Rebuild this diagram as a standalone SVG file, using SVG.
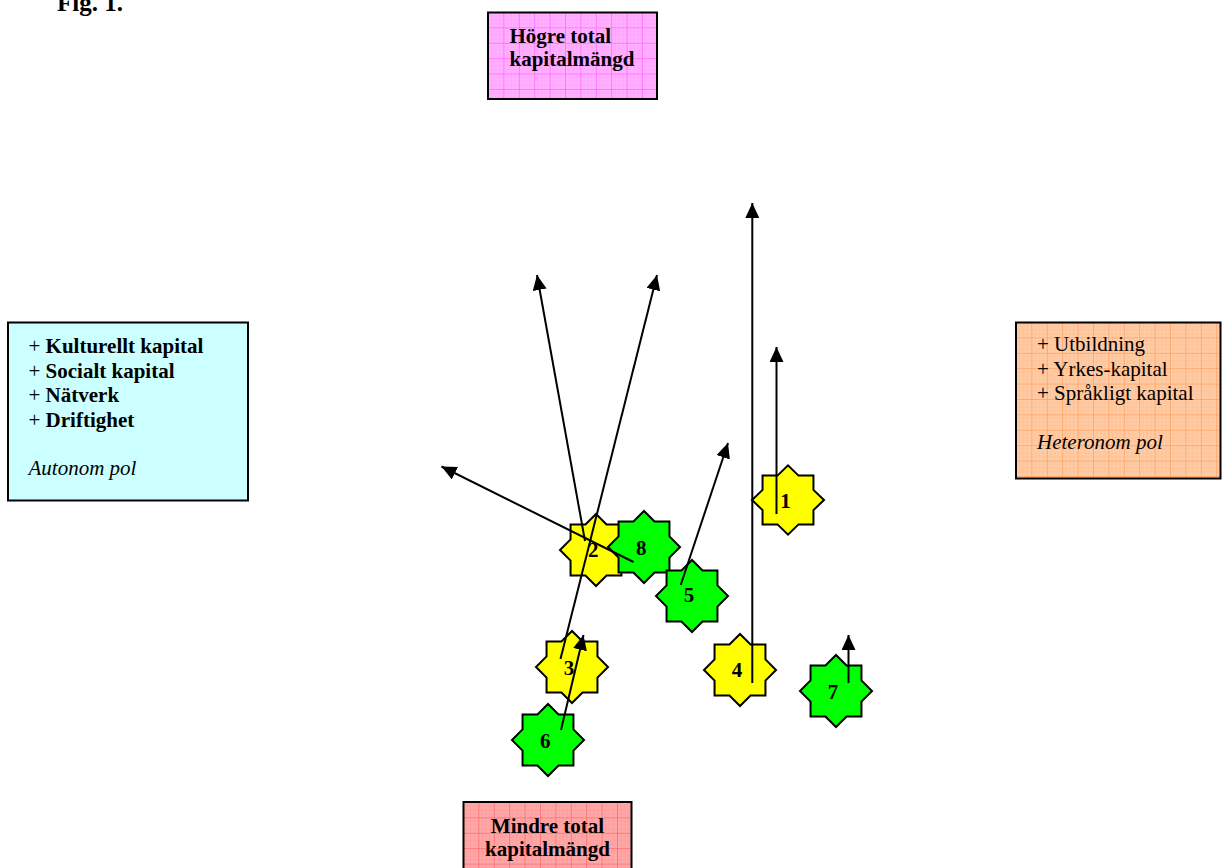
<svg xmlns="http://www.w3.org/2000/svg" xmlns:xlink="http://www.w3.org/1999/xlink" width="1222" height="868" viewBox="0 0 1222 868">
<style>
.t{font-family:"Liberation Serif","Times New Roman",serif;font-size:21px;fill:#000}
.b{font-weight:bold}
.i{font-style:italic}
.box{stroke:#000;stroke-width:2}
.yel{fill:#FFFF00;stroke:#000;stroke-width:2;stroke-linejoin:miter}
.grn{fill:#00FF00;stroke:#000;stroke-width:2;stroke-linejoin:miter}
.num{font-family:"Liberation Serif","Times New Roman",serif;font-size:21px;font-weight:bold;text-anchor:middle;fill:#000}
.arr{stroke:#000;stroke-width:2;fill:none;marker-end:url(#ah)}
</style>
<defs>
<marker id="ah" markerUnits="userSpaceOnUse" markerWidth="16" markerHeight="15" refX="15" refY="7" orient="auto">
<path d="M0,0 L15,7 L0,14 Z" fill="#000"/>
</marker>
<polygon id="star" points="36,0 25.45,10.54 25.45,25.45 10.54,25.45 0,36 -10.54,25.45 -25.45,25.45 -25.45,10.54 -36,0 -25.45,-10.54 -25.45,-25.45 -10.54,-25.45 0,-36 10.54,-25.45 25.45,-25.45 25.45,-10.54"/>
<pattern id="gPink" patternUnits="userSpaceOnUse" x="488" y="12" width="15.4" height="15.4">
<rect width="15.4" height="15.4" fill="#FFB0FF"/>
<path d="M3.85,0V15.4M7.7,0V15.4M11.55,0V15.4M0,3.85H15.4M0,7.7H15.4M0,11.55H15.4" stroke="#FF88FF" stroke-width="0.5" stroke-dasharray="1,1"/>
<path d="M0,0V15.4M0,0H15.4" stroke="#FF40FF" stroke-width="1"/>
</pattern>
<pattern id="gPeach" patternUnits="userSpaceOnUse" x="1016" y="322" width="15.4" height="15.4">
<rect width="15.4" height="15.4" fill="#FFCCA6"/>
<path d="M3.85,0V15.4M7.7,0V15.4M11.55,0V15.4M0,3.85H15.4M0,7.7H15.4M0,11.55H15.4" stroke="#FFAA70" stroke-width="0.5" stroke-dasharray="1,1"/>
<path d="M0,0V15.4M0,0H15.4" stroke="#FF8C3C" stroke-width="1"/>
</pattern>
<pattern id="gRed" patternUnits="userSpaceOnUse" x="463" y="802" width="15.4" height="15.4">
<rect width="15.4" height="15.4" fill="#FFA8A8"/>
<path d="M3.85,0V15.4M7.7,0V15.4M11.55,0V15.4M0,3.85H15.4M0,7.7H15.4M0,11.55H15.4" stroke="#FF8080" stroke-width="0.5" stroke-dasharray="1,1"/>
<path d="M0,0V15.4M0,0H15.4" stroke="#FF4848" stroke-width="1"/>
</pattern>
</defs>
<rect width="1222" height="868" fill="#FFFFFF"/>
<text class="t b" x="57" y="11" style="font-size:25px">Fig. 1.</text>

<g id="node-top">
<rect class="box" x="488" y="12.5" width="169" height="86.5" fill="url(#gPink)"/>
<text class="t b" x="509.5" y="42.7">Högre total</text>
<text class="t b" x="509.5" y="65.7">kapitalmängd</text>
</g>

<g id="node-bottom">
<rect class="box" x="463.5" y="802" width="168" height="80" fill="url(#gRed)"/>
<text class="t b" x="547.5" y="833.3" text-anchor="middle">Mindre total</text>
<text class="t b" x="547.5" y="855.5" text-anchor="middle">kapitalmängd</text>
</g>

<g id="node-left">
<rect class="box" x="8" y="322.5" width="240" height="178" fill="#CCFFFF"/>
<text class="t" x="28.5" y="353.3">+ <tspan class="b">Kulturellt kapital</tspan></text>
<text class="t" x="28.5" y="377.7">+ <tspan class="b">Socialt kapital</tspan></text>
<text class="t" x="28.5" y="402.3">+ <tspan class="b">Nätverk</tspan></text>
<text class="t" x="28.5" y="426.7">+ <tspan class="b">Driftighet</tspan></text>
<text class="t i" x="28.5" y="475">Autonom pol</text>
</g>

<g id="node-right">
<rect class="box" x="1016" y="322.5" width="204.5" height="156" fill="url(#gPeach)"/>
<text class="t" x="1037" y="351">+ Utbildning</text>
<text class="t" x="1037" y="376">+ Yrkes-kapital</text>
<text class="t" x="1037" y="400.3">+ Språkligt kapital</text>
<text class="t i" x="1037" y="449.3">Heteronom pol</text>
</g>

<g id="star-1"><use xlink:href="#star" href="#star" class="yel" transform="translate(788,500) scale(1,0.96)"/><text class="num" x="785.5" y="508.3">1</text></g>
<g id="star-3"><use xlink:href="#star" href="#star" class="yel" transform="translate(572,667)"/><text class="num" x="569" y="675">3</text></g>
<g id="star-4"><use xlink:href="#star" href="#star" class="yel" transform="translate(740,670)"/><text class="num" x="737" y="677.3">4</text></g>
<g id="star-6"><use xlink:href="#star" href="#star" class="grn" transform="translate(548,740)"/><text class="num" x="545.3" y="747.7">6</text></g>
<g id="star-7"><use xlink:href="#star" href="#star" class="grn" transform="translate(836,691)"/><text class="num" x="833" y="699">7</text></g>
<g id="star-2"><use xlink:href="#star" href="#star" class="yel" transform="translate(596,550)"/><text class="num" x="593.3" y="556.7">2</text></g>
<g id="star-8"><use xlink:href="#star" href="#star" class="grn" transform="translate(644,547)"/><text class="num" x="641.3" y="555">8</text></g>
<g id="star-5"><use xlink:href="#star" href="#star" class="grn" transform="translate(692,596)"/><text class="num" x="689" y="602.3">5</text></g>

<g id="connectors">
<line class="arr" x1="776.5" y1="514" x2="776.5" y2="347"/>
<line class="arr" x1="585" y1="541" x2="537" y2="275"/>
<line class="arr" x1="560.5" y1="659" x2="657" y2="275"/>
<line class="arr" x1="752.3" y1="683" x2="752.3" y2="203"/>
<line class="arr" x1="680.7" y1="585" x2="728" y2="443"/>
<line class="arr" x1="561" y1="730" x2="583.5" y2="635"/>
<line class="arr" x1="848.5" y1="683" x2="848.5" y2="635"/>
<line class="arr" x1="633.5" y1="562" x2="441.5" y2="466.5"/>
</g>
</svg>
